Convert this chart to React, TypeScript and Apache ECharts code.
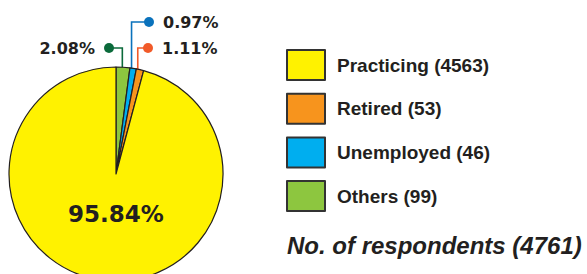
import React, { useEffect, useRef } from "react";
import * as echarts from "echarts";

// Data (pie order clockwise from 12 o'clock)
const categories = ["Others", "Unemployed", "Retired", "Practicing"];
const counts = [99, 46, 53, 4563];
const sliceColors = ["#8dc63f", "#00aeef", "#f7941d", "#fff200"];
const dotColors = ["#0b6a3b", "#0a72bc", "#f15a29", "#231f20"];
const legendOrder = ["Practicing", "Retired", "Unemployed", "Others"];
const totalLabel = "No. of respondents (4761)";

const CX = 116;
const CY = 174;
const R = 107;
const R_IN = 97;
// label anchor (dot centre) per slice, and side of the text
const anchors: { x: number; y: number; side: "left" | "right" | "none" }[] = [
  { x: 109, y: 48, side: "left" },
  { x: 149, y: 22, side: "right" },
  { x: 148, y: 48, side: "right" },
  { x: 116, y: 214, side: "none" },
];

const total = counts.reduce((a, b) => a + b, 0);
const pct = (v: number) => ((v / total) * 100).toFixed(2) + "%";

export default function App() {
  const ref = useRef<HTMLDivElement>(null);
  useEffect(() => {
    document.body.style.margin = "0";
    if (!ref.current) return;
    const chart = echarts.init(ref.current, undefined, { renderer: "svg" });

    const cum: number[] = [];
    let acc = 0;
    counts.forEach((c) => {
      cum.push(acc + c / 2);
      acc += c;
    });

    const data = categories.map((name, i) => {
      const a = anchors[i];
      const isMain = a.side === "none";
      return {
        name,
        value: counts[i],
        itemStyle: { color: sliceColors[i] },
        labelLine: {
          show: !isMain,
          lineStyle: { color: dotColors[i], width: 1.6 },
        },
        label: {
          show: true,
          position: isMain ? "inside" : "outside",
          formatter: isMain
            ? "{big|" + pct(counts[i]) + "}"
            : a.side === "left"
            ? "{t|" + pct(counts[i]) + "}{sp|}{dot|}"
            : "{dot|}{sp|}{t|" + pct(counts[i]) + "}",
          rich: {
            t: {
              fontFamily: "DejaVu Sans",
              fontWeight: "bold",
              fontSize: 16,
              color: "#231f20",
              lineHeight: 20,
            },
            big: {
              fontFamily: "DejaVu Sans",
              fontWeight: "bold",
              fontSize: 23,
              color: "#231f20",
            },
            sp: { width: 9, height: 10, lineHeight: 20 },
            dot: {
              width: 10,
              height: 10,
              borderRadius: 5,
              backgroundColor: dotColors[i],
              lineHeight: 20,
            },
          },
        },
      };
    });

    chart.setOption({
      animation: false,
      title: {
        text: totalLabel,
        left: 282,
        top: 228,
        textStyle: {
          fontFamily: "Liberation Sans",
          fontStyle: "italic",
          fontWeight: "bold",
          fontSize: 24,
          color: "#231f20",
        },
      },
      legend: {
        orient: "vertical",
        left: 286,
        top: 49,
        padding: 0,
        data: legendOrder,
        icon: "rect",
        itemWidth: 38,
        itemHeight: 30,
        itemGap: 11.7,
        itemStyle: { borderColor: "#333333", borderWidth: 2 },
        formatter: (name: string) => name + " (" + counts[categories.indexOf(name)] + ")",
        textStyle: {
          fontFamily: "Liberation Sans",
          fontWeight: "bold",
          fontSize: 19,
          color: "#231f20",
          padding: [0, 0, 0, 7],
        },
        selectedMode: false,
      },
      series: [
        {
          type: "pie",
          center: [CX, CY],
          radius: R,
          startAngle: 90,
          clockwise: true,
          avoidLabelOverlap: false,
          itemStyle: { borderColor: "#231f20", borderWidth: 1.2 },
          emphasis: { disabled: true },
          data,
          labelLayout: (params: any) => {
            const i = params.dataIndex;
            const a = anchors[i];
            if (a.side === "none") {
              return { x: a.x, y: a.y, align: "center", verticalAlign: "middle" };
            }
            const theta = (cum[i] / total) * Math.PI * 2;
            const px = CX + R_IN * Math.sin(theta);
            const py = CY - R_IN * Math.cos(theta);
            return {
              x: a.side === "left" ? a.x + 5 : a.x - 5,
              y: a.y,
              align: a.side === "left" ? "right" : "left",
              verticalAlign: "middle",
              labelLinePoints: [
                [px, py],
                [px, a.y],
                [a.x, a.y],
              ],
            };
          },
        },
      ],
    });
    return () => chart.dispose();
  }, []);
  return <div ref={ref} style={{ width: 587, height: 274 }} />;
}
